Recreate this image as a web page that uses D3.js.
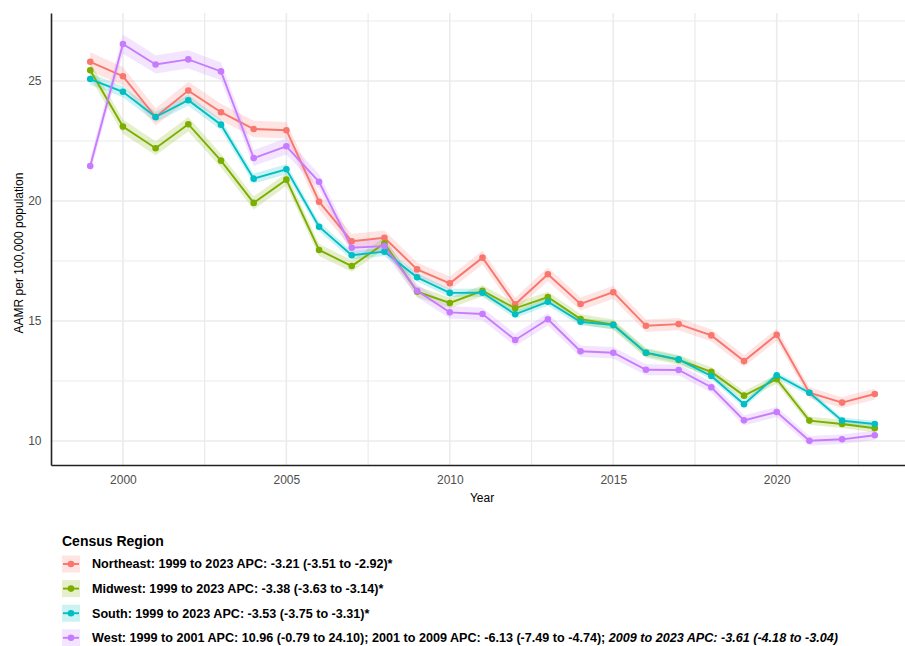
<!DOCTYPE html>
<html>
<head>
<meta charset="utf-8">
<script src="https://cdn.jsdelivr.net/npm/d3@7"></script>
<style>
  html, body { margin: 0; padding: 0; background: #fff; }
  svg { display: block; font-family: "Liberation Sans", Arial, sans-serif; }
</style>
</head>
<body>
<svg id="chart" width="905" height="646"></svg>
<script>
// Age-adjusted mortality rate by census region, 1999–2023
const years = d3.range(1999, 2024);

const northeast = [25.8, 25.2, 23.5, 24.6, 23.7, 23.0, 22.95, 19.97, 18.32, 18.47, 17.15, 16.57, 17.64, 15.7, 16.95, 15.71, 16.2, 14.8, 14.87, 14.4, 13.33, 14.43, 12.01, 11.6, 11.96];
const midwest   = [25.45, 23.1, 22.2, 23.2, 21.68, 19.92, 20.89, 17.96, 17.29, 18.24, 16.22, 15.75, 16.26, 15.53, 16.0, 15.08, 14.85, 13.67, 13.38, 12.88, 11.89, 12.58, 10.85, 10.71, 10.53];
const south     = [25.08, 24.55, 23.5, 24.2, 23.18, 20.93, 21.32, 18.93, 17.74, 17.89, 16.82, 16.17, 16.18, 15.28, 15.8, 14.97, 14.83, 13.68, 13.4, 12.71, 11.53, 12.74, 12.01, 10.85, 10.71];
const west      = [21.46, 26.54, 25.69, 25.9, 25.4, 21.79, 22.28, 20.8, 18.05, 18.12, 16.26, 15.36, 15.29, 14.21, 15.07, 13.74, 13.68, 12.97, 12.96, 12.24, 10.86, 11.21, 10.01, 10.07, 10.24];

// 95% confidence half-widths per year
const northeastCI = [0.40, 0.38, 0.36, 0.37, 0.35, 0.34, 0.34, 0.32, 0.30, 0.30, 0.29, 0.28, 0.29, 0.27, 0.28, 0.27, 0.27, 0.26, 0.26, 0.25, 0.24, 0.25, 0.23, 0.22, 0.23];
const midwestCI   = [0.32, 0.30, 0.29, 0.30, 0.28, 0.27, 0.27, 0.25, 0.24, 0.25, 0.23, 0.22, 0.23, 0.22, 0.22, 0.21, 0.21, 0.20, 0.20, 0.19, 0.18, 0.19, 0.17, 0.17, 0.17];
const southCI     = [0.24, 0.23, 0.22, 0.23, 0.22, 0.21, 0.21, 0.19, 0.18, 0.18, 0.17, 0.17, 0.17, 0.16, 0.16, 0.16, 0.16, 0.15, 0.15, 0.14, 0.14, 0.14, 0.14, 0.13, 0.13];
const westCI      = [0.30, 0.40, 0.38, 0.38, 0.37, 0.33, 0.34, 0.31, 0.29, 0.29, 0.27, 0.26, 0.26, 0.25, 0.26, 0.24, 0.24, 0.23, 0.23, 0.22, 0.21, 0.21, 0.20, 0.20, 0.20];

const regionNames = ["Northeast", "Midwest", "South", "West"];
const regionColors = ["#F8766D", "#7CAE00", "#00BFC4", "#C77CFF"];
const regionLabels = [
  [{t: "Northeast: 1999 to 2023 APC: -3.21 (-3.51 to -2.92)*", i: false}],
  [{t: "Midwest: 1999 to 2023 APC: -3.38 (-3.63 to -3.14)*", i: false}],
  [{t: "South: 1999 to 2023 APC: -3.53 (-3.75 to -3.31)*", i: false}],
  [{t: "West: 1999 to 2001 APC: 10.96 (-0.79 to 24.10); 2001 to 2009 APC: -6.13 (-7.49 to -4.74); ", i: false},
   {t: "2009 to 2023 APC: -3.61 (-4.18 to -3.04)", i: true}]
];

const xTicks = [2000, 2005, 2010, 2015, 2020];
const xMinor = [2002.5, 2007.5, 2012.5, 2017.5, 2022.5];
const yTicks = [10, 15, 20, 25];
const yMinor = [12.5, 17.5, 22.5, 27.5];

const seriesValues = [northeast, midwest, south, west];
const seriesCI = [northeastCI, midwestCI, southCI, westCI];
const regions = regionNames.map((name, k) => ({
  name,
  color: regionColors[k],
  label: regionLabels[k],
  points: years.map((yr, i) => ({
    year: yr,
    value: seriesValues[k][i],
    lo: seriesValues[k][i] - seriesCI[k][i],
    hi: seriesValues[k][i] + seriesCI[k][i]
  }))
}));

const svg = d3.select("#chart");
const panelLeft = 51, panelRight = 914, panelTop = 13, panelBottom = 465;

const x = d3.scaleLinear().domain([1997.8, 2024.2]).range([panelLeft, panelRight]);
const y = d3.scaleLinear().domain([9.0, 27.833]).range([panelBottom, panelTop]);

svg.append("defs").append("clipPath").attr("id", "panel")
  .append("rect").attr("x", panelLeft).attr("y", panelTop)
  .attr("width", panelRight - panelLeft).attr("height", panelBottom - panelTop);

// grid
const grid = svg.append("g").attr("clip-path", "url(#panel)");
grid.selectAll("line.ymin").data(yMinor).join("line")
  .attr("x1", panelLeft).attr("x2", panelRight).attr("y1", d => y(d)).attr("y2", d => y(d))
  .attr("stroke", "#EBEBEB").attr("stroke-width", 1.2);
grid.selectAll("line.xmin").data(xMinor).join("line")
  .attr("y1", panelTop).attr("y2", panelBottom).attr("x1", d => x(d)).attr("x2", d => x(d))
  .attr("stroke", "#EBEBEB").attr("stroke-width", 1.2);
grid.selectAll("line.ymaj").data(yTicks).join("line")
  .attr("x1", panelLeft).attr("x2", panelRight).attr("y1", d => y(d)).attr("y2", d => y(d))
  .attr("stroke", "#EBEBEB").attr("stroke-width", 1.6);
grid.selectAll("line.xmaj").data(xTicks).join("line")
  .attr("y1", panelTop).attr("y2", panelBottom).attr("x1", d => x(d)).attr("x2", d => x(d))
  .attr("stroke", "#EBEBEB").attr("stroke-width", 1.6);

const area = d3.area().x(d => x(d.year)).y0(d => y(d.lo)).y1(d => y(d.hi));
const line = d3.line().x(d => x(d.year)).y(d => y(d.value));

const plot = svg.append("g").attr("clip-path", "url(#panel)");
plot.selectAll("path.band").data(regions).join("path")
  .attr("d", d => area(d.points))
  .attr("fill", d => d.color).attr("fill-opacity", 0.2);
plot.selectAll("path.line").data(regions).join("path")
  .attr("d", d => line(d.points))
  .attr("fill", "none").attr("stroke", d => d.color).attr("stroke-width", 1.9);
regions.forEach(r => {
  plot.append("g").selectAll("circle").data(r.points).join("circle")
    .attr("cx", d => x(d.year)).attr("cy", d => y(d.value)).attr("r", 3.3)
    .attr("fill", r.color);
});

// axes
const xAxis = svg.append("g").attr("transform", `translate(0,${panelBottom})`)
  .call(d3.axisBottom(x).tickValues(xTicks).tickFormat(d3.format("d")).tickSize(0).tickPadding(10));
const yAxis = svg.append("g").attr("transform", `translate(${panelLeft},0)`)
  .call(d3.axisLeft(y).tickValues(yTicks).tickFormat(d3.format("d")).tickSize(0).tickPadding(9.5));
[xAxis, yAxis].forEach(a => {
  a.select(".domain").attr("stroke", "#222").attr("stroke-width", 1.6);
  a.selectAll("text").attr("fill", "#4D4D4D").attr("font-size", 12)
    .attr("font-family", "'Liberation Sans', Arial, sans-serif");
});

svg.append("text").attr("x", 482).attr("y", 502)
  .attr("text-anchor", "middle").attr("font-size", 12).attr("fill", "#000").text("Year");
svg.append("text").attr("transform", `translate(22.5,${(panelTop + panelBottom) / 2 + 14}) rotate(-90)`)
  .attr("text-anchor", "middle").attr("font-size", 12).attr("fill", "#000").text("AAMR per 100,000 population");

// legend
const legend = svg.append("g");
legend.append("text").attr("x", 62).attr("y", 546).attr("font-size", 14).attr("font-weight", "bold")
  .text("Census Region");
regions.forEach((r, k) => {
  const cy = 564 + k * 24.6;
  const g = legend.append("g");
  g.append("rect").attr("x", 62).attr("y", cy - 8.5).attr("width", 18).attr("height", 17)
    .attr("fill", r.color).attr("fill-opacity", 0.2);
  g.append("line").attr("x1", 63).attr("x2", 79).attr("y1", cy).attr("y2", cy)
    .attr("stroke", r.color).attr("stroke-width", 1.9);
  g.append("circle").attr("cx", 71).attr("cy", cy).attr("r", 3.3).attr("fill", r.color);
  const t = g.append("text").attr("x", 92).attr("y", cy + 4.4).attr("font-size", 12.6)
    .attr("font-weight", "bold").attr("fill", "#000");
  r.label.forEach(seg => {
    t.append("tspan").attr("font-style", seg.i ? "italic" : "normal").text(seg.t);
  });
});
</script>
</body>
</html>
